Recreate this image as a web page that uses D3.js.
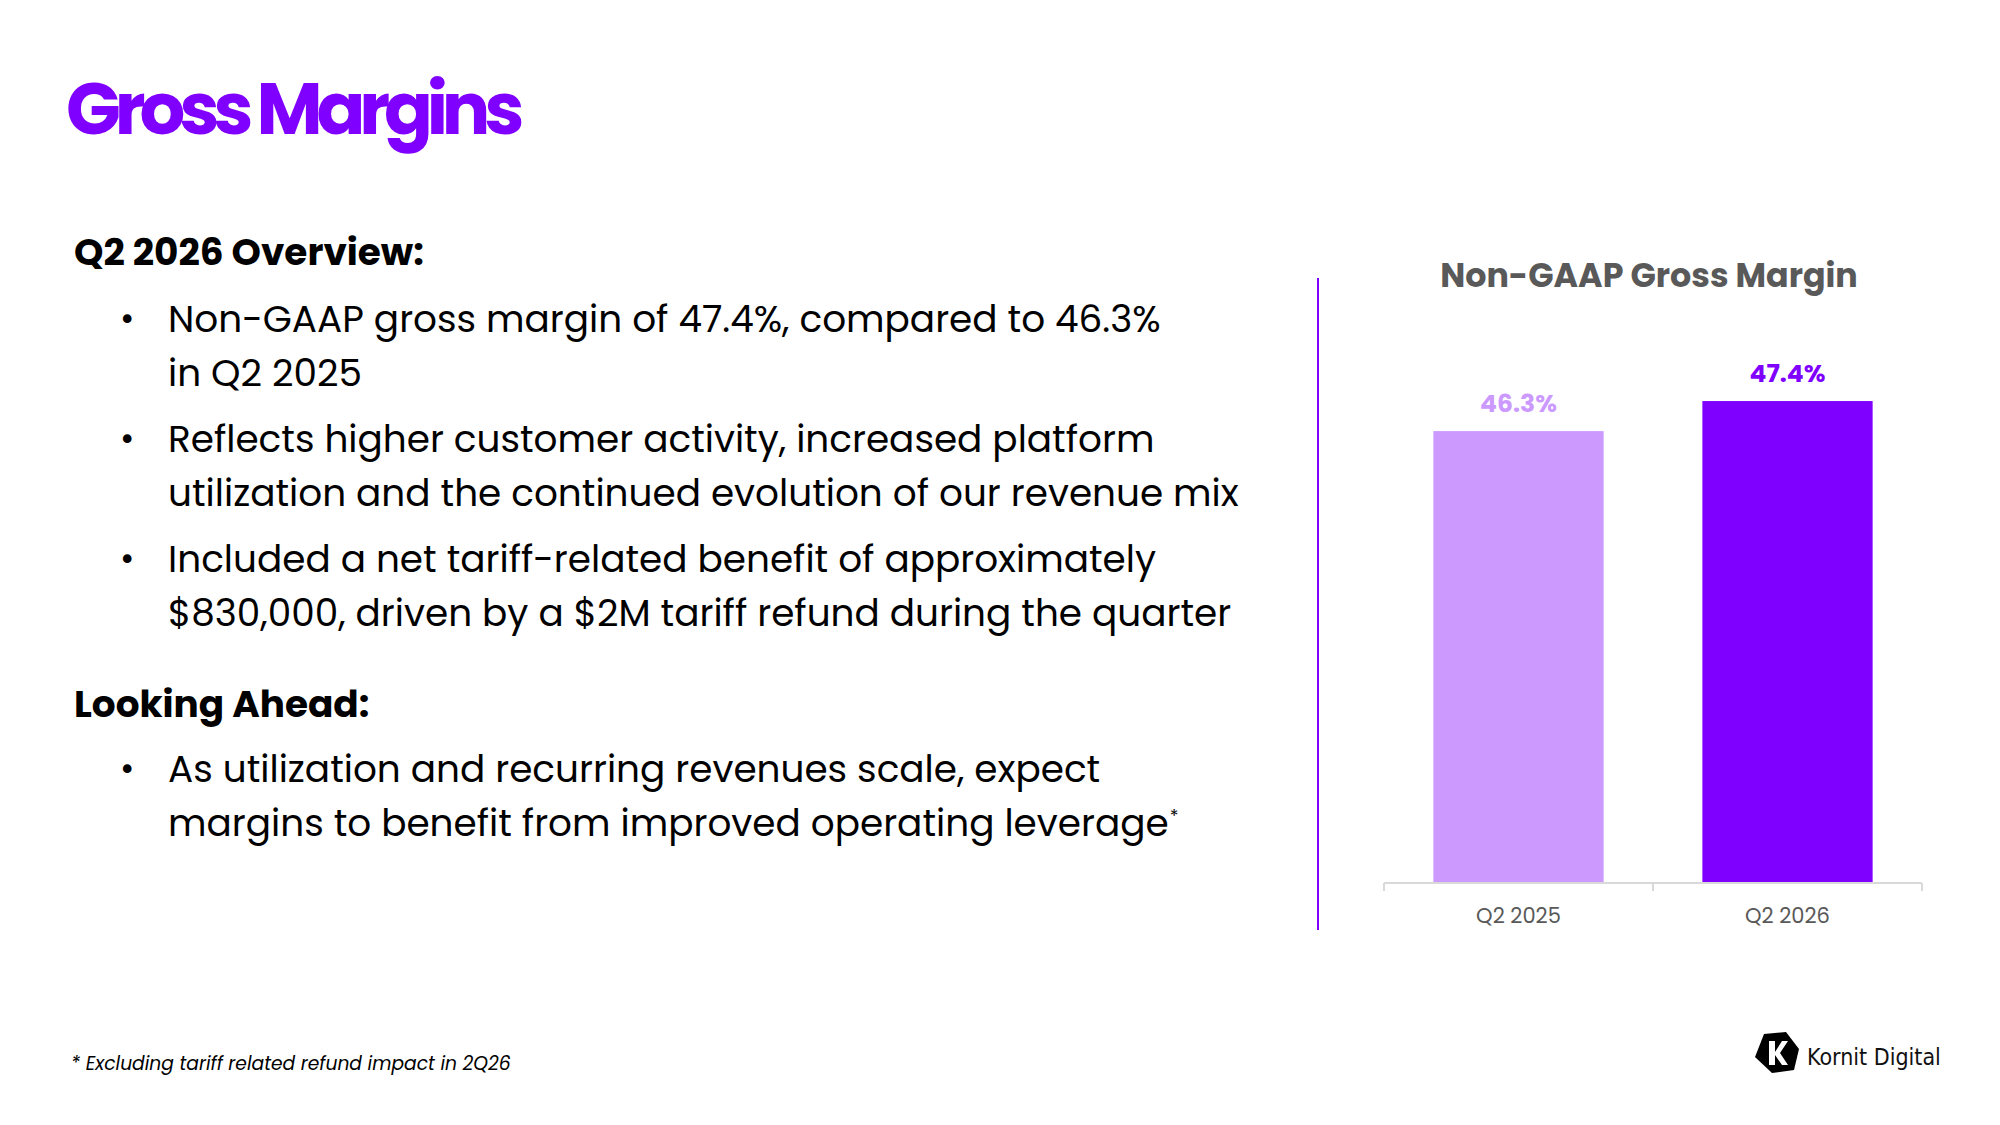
<!DOCTYPE html>
<html>
<head>
<meta charset="utf-8">
<script src="https://cdn.jsdelivr.net/npm/d3@7"></script>
<style>
  html, body { margin: 0; padding: 0; background: #fff; }
  text { font-family: "Poppins", "Open Sans", sans-serif; }
</style>
</head>
<body>
<svg id="slide"></svg>
<script>
// Chart data
const quarters = ["Q2 2025", "Q2 2026"];
const margins = [46.3, 47.4];
const barColors = ["#CC99FF", "#8000FF"];

// Slide text
const pageTitle = "Gross Margins";
const chartTitle = "Non-GAAP Gross Margin";
const overviewHead = "Q2 2026 Overview:";
const overviewBullets = [
    ["Non-GAAP gross margin of 47.4%, compared to 46.3%", "in Q2 2025"],
    ["Reflects higher customer activity, increased platform", "utilization and the continued evolution of our revenue mix"],
    ["Included a net tariff-related benefit of approximately", "$830,000, driven by a $2M tariff refund during the quarter"]
];
const aheadHead = "Looking Ahead:";
const aheadBullets = [
    ["As utilization and recurring revenues scale, expect", "margins to benefit from improved operating leverage"]
];
const footnote = "* Excluding tariff related refund impact in 2Q26";

const W = 2000, H = 1125;
const violet = "#8000FF";

const svg = d3.select("#slide")
    .attr("width", W)
    .attr("height", H);

// Page title
svg.append("text")
    .attr("x", 66)
    .attr("y", 134)
    .attr("fill", violet)
    .style("font-size", "72px")
    .style("font-weight", 700)
    .style("letter-spacing", "-0.085em")
    .text(pageTitle);

// Left column: headings and bullets
const bodySize = 37.4;
const lineGap = 54, bulletGap = 120;

function drawSection(head, headY, bullets, firstY) {
    svg.append("text")
        .attr("x", 74)
        .attr("y", headY)
        .attr("fill", "#000")
        .style("font-size", "37.4px")
        .style("font-weight", 700)
        .text(head);

    bullets.forEach((lines, i) => {
        const y0 = firstY + i * bulletGap;
        svg.append("text")
            .attr("x", 120)
            .attr("y", y0 - 1)
            .style("font-size", "35px")
            .text("\u2022");
        lines.forEach((line, j) => {
            svg.append("text")
                .attr("class", "body-line")
                .attr("x", 168)
                .attr("y", y0 + j * lineGap)
                .attr("fill", "#000")
                .style("font-size", bodySize + "px")
                .text(line);
        });
    });
}

drawSection(overviewHead, 265, overviewBullets, 332);
drawSection(aheadHead, 717, aheadBullets, 782);

// superscript asterisk after the last line
const lastLine = svg.selectAll(".body-line").nodes().pop();
const lastBox = lastLine.getBBox();
svg.append("text")
    .attr("x", lastBox.x + lastBox.width + 1)
    .attr("y", 822)
    .style("font-size", "18px")
    .text("*");

// Footnote
svg.append("text")
    .attr("x", 71)
    .attr("y", 1070)
    .style("font-size", "18.7px")
    .style("font-style", "italic")
    .text(footnote);

// Divider line
svg.append("line")
    .attr("x1", 1318).attr("x2", 1318)
    .attr("y1", 278).attr("y2", 930)
    .attr("stroke", violet)
    .attr("stroke-width", 2);

// Bar chart
const plotLeft = 1384, plotRight = 1922;
const plotBottom = 882, plotTop = 330;

const x = d3.scaleBand()
    .domain(quarters)
    .range([plotLeft, plotRight])
    .padding(0);

const y = d3.scaleLinear()
    .domain([29.8, 50])
    .range([plotBottom, plotTop]);

const barW = x.bandwidth() * 0.633;

svg.append("text")
    .attr("x", 1649)
    .attr("y", 287)
    .attr("text-anchor", "middle")
    .attr("fill", "#595959")
    .style("font-size", "33.3px")
    .style("font-weight", 700)
    .text(chartTitle);

svg.selectAll(".bar")
    .data(margins)
    .enter().append("rect")
    .attr("class", "bar")
    .attr("x", (d, i) => x(quarters[i]) + (x.bandwidth() - barW) / 2)
    .attr("y", d => y(d))
    .attr("width", barW)
    .attr("height", d => plotBottom - y(d))
    .attr("fill", (d, i) => barColors[i]);

svg.selectAll(".bar-label")
    .data(margins)
    .enter().append("text")
    .attr("class", "bar-label")
    .attr("x", (d, i) => x(quarters[i]) + x.bandwidth() / 2)
    .attr("y", d => y(d) - 19)
    .attr("text-anchor", "middle")
    .attr("fill", (d, i) => barColors[i])
    .style("font-size", "25px")
    .style("font-weight", 700)
    .text(d => d.toFixed(1) + "%");

// Category axis: ticks sit between the categories
const axis = svg.append("g").attr("class", "x-axis");
axis.append("line")
    .attr("x1", plotLeft).attr("x2", plotRight)
    .attr("y1", plotBottom + 1).attr("y2", plotBottom + 1)
    .attr("stroke", "#d9d9d9")
    .attr("stroke-width", 2);

const tickXs = quarters.map(q => x(q)).concat([plotRight]);
axis.selectAll(".tick")
    .data(tickXs)
    .enter().append("line")
    .attr("x1", d => d).attr("x2", d => d)
    .attr("y1", plotBottom + 1).attr("y2", plotBottom + 9)
    .attr("stroke", "#d9d9d9")
    .attr("stroke-width", 2);

axis.selectAll(".cat-label")
    .data(quarters)
    .enter().append("text")
    .attr("class", "cat-label")
    .attr("x", d => x(d) + x.bandwidth() / 2)
    .attr("y", 923)
    .attr("text-anchor", "middle")
    .attr("fill", "#595959")
    .style("font-size", "21px")
    .text(d => d);

// Kornit Digital logo
const logo = svg.append("g").attr("transform", "translate(1755,1032)");
logo.append("path")
    .attr("d", "M9,2 L31,0 L44,17 L39,38 L17,41 L0,25 Z")
    .attr("fill", "#000");
logo.append("path")
    .attr("d", "M14,9 L20,9 L20,20 L27,9 L33,9 L25,21 L33,33 L27,33 L20,23 L20,33 L14,33 Z")
    .attr("fill", "#fff");
svg.append("text")
    .attr("x", 1807)
    .attr("y", 1065)
    .attr("fill", "#111")
    .style("font-family", "'Liberation Sans Narrow', 'DejaVu Sans Condensed', sans-serif")
    .style("font-size", "23px")
    .text("Kornit Digital");
</script>
</body>
</html>
